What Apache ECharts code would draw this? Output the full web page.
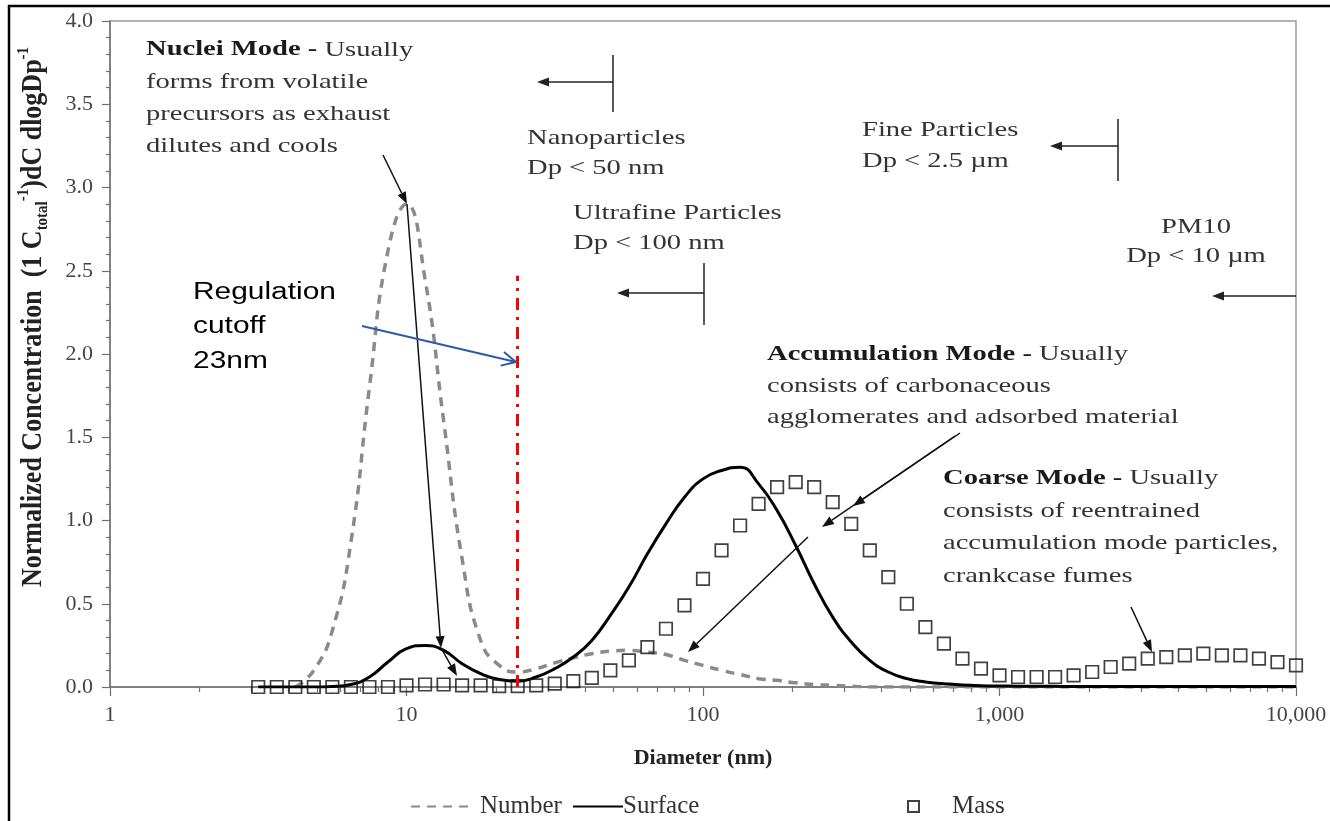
<!DOCTYPE html>
<html>
<head>
<meta charset="utf-8">
<script src="https://cdn.jsdelivr.net/npm/echarts@6/dist/echarts.min.js"></script>
<style>
html, body { margin: 0; padding: 0; background: #fff; }
#chart { width: 1330px; height: 821px; }
</style>
</head>
<body>
<div id="chart"></div>
<script>
// particle diameter (nm), 16 points per decade
var diameters = [3.162, 3.652, 4.217, 4.870, 5.623, 6.494, 7.499, 8.660, 10,
  11.55, 13.34, 15.40, 17.78, 20.54, 23.71, 27.38, 31.62, 36.52, 42.17, 48.70,
  56.23, 64.94, 74.99, 86.60, 100, 115.5, 133.4, 154.0, 177.8, 205.4, 237.1,
  273.8, 316.2, 365.2, 421.7, 487.0, 562.3, 649.4, 749.9, 866.0, 1000, 1155,
  1334, 1540, 1778, 2054, 2371, 2738, 3162, 3652, 4217, 4870, 5623, 6494,
  7499, 8660, 10000];

var numberConc = [null, null, 0, 0.1, 0.34, 0.87, 1.8, 2.62, 2.9, 2.45, 1.6, 0.77,
  0.28, 0.13, 0.09, 0.11, 0.145, 0.175, 0.2, 0.215, 0.22, 0.21,
  0.195, 0.16, 0.13, 0.1, 0.075, 0.05, 0.04, 0.025, 0.015, 0.01, 0.005,
  0, 0, 0, 0, 0, 0, 0, 0, 0, 0, 0, 0, 0, 0, 0, 0, 0, 0, 0, 0, 0, 0, 0, 0];

var surfaceConc = [0, 0, 0, 0, 0.003, 0.015, 0.06, 0.15, 0.23, 0.25, 0.22, 0.14,
  0.08, 0.045, 0.035, 0.06, 0.11, 0.18, 0.28, 0.43, 0.6, 0.8, 0.98, 1.14,
  1.25, 1.30, 1.32, 1.22, 1.06, 0.85, 0.62, 0.42, 0.27, 0.16, 0.09, 0.05,
  0.03, 0.02, 0.012, 0.008, 0.006, 0.005, 0.004, 0.004, 0.003, 0.003, 0.003,
  0.003, 0.003, 0.003, 0.003, 0.003, 0.003, 0.003, 0.003, 0.003, 0.003];

var massConc = [0, 0, 0, 0, 0, 0, 0, 0, 0.01, 0.015, 0.015, 0.01, 0.01, 0.005,
  0.005, 0.01, 0.02, 0.035, 0.055, 0.1, 0.16, 0.24, 0.35, 0.49, 0.65, 0.82,
  0.97, 1.1, 1.2, 1.23, 1.2, 1.11, 0.98, 0.82, 0.66, 0.5, 0.36, 0.26, 0.17,
  0.11, 0.07, 0.06, 0.06, 0.06, 0.07, 0.09, 0.12, 0.14, 0.17, 0.18, 0.19,
  0.2, 0.19, 0.19, 0.17, 0.15, 0.13];

var xTickLabels = { 1: '1', 10: '10', 100: '100', 1000: '1,000', 10000: '10,000' };
var xMinorTicks = [2, 3, 4, 5, 6, 7, 8, 9, 20, 30, 40, 50, 60, 70, 80, 90,
  200, 300, 400, 500, 600, 700, 800, 900, 2000, 3000, 4000, 5000, 6000, 7000, 8000, 9000];
var cutoffDiameter = 23.7;
var cutoffTop = 2.47;

function pairs(xs, ys) {
  var out = [];
  for (var i = 0; i < xs.length; i++) {
    if (ys[i] != null) out.push([xs[i], ys[i]]);
  }
  return out;
}

var SERIF = '"Liberation Serif", "Times New Roman", serif';
var SANS = '"Liberation Sans", Arial, sans-serif';
var AXIS = '#707070';

var els = [];

function arrow(x1, y1, x2, y2, color, w, open) {
  var dx = x2 - x1, dy = y2 - y1, len = Math.sqrt(dx * dx + dy * dy);
  var ux = dx / len, uy = dy / len, px = -uy, py = ux;
  var hl = open ? 14 : 12, hw = open ? 7 : 4.5;
  var bx = x2 - ux * hl, by = y2 - uy * hl;
  els.push({ type: 'line', silent: true, z: 100,
    shape: { x1: x1, y1: y1, x2: open ? x2 : bx, y2: open ? y2 : by },
    style: { stroke: color, lineWidth: w } });
  if (open) {
    els.push({ type: 'polyline', silent: true, z: 100,
      shape: { points: [[bx + px * hw, by + py * hw], [x2, y2], [bx - px * hw, by - py * hw]] },
      style: { stroke: color, lineWidth: w, fill: null } });
  } else {
    els.push({ type: 'polygon', silent: true, z: 100,
      shape: { points: [[x2, y2], [bx + px * hw, by + py * hw], [bx - px * hw, by - py * hw]] },
      style: { fill: color } });
  }
}

function vline(x, y1, y2) {
  els.push({ type: 'line', silent: true, z: 100,
    shape: { x1: x, y1: y1, x2: x, y2: y2 }, style: { stroke: '#222', lineWidth: 1.5 } });
}

function note(x, y, text, lh, align) {
  els.push({ type: 'text', silent: true, z: 100, x: x, y: y, scaleX: 1.36,
    style: {
      text: text, fontFamily: SERIF, fontSize: 21, fill: '#333',
      lineHeight: lh, align: align || 'left', verticalAlign: 'top',
      rich: { b: { fontFamily: SERIF, fontSize: 21, fontWeight: 'bold', fill: '#1a1a1a', lineHeight: lh } }
    } });
}

// outer frame
els.push({ type: 'polyline', silent: true, shape: { points: [[9, 821], [9, 6], [1330, 6]] },
  style: { stroke: '#000', lineWidth: 2.5, fill: null } });

// y axis title
els.push({ type: 'text', silent: true, x: 33, y: 317, rotation: Math.PI / 2, scaleY: 1.12,
  style: {
    text: '{n|Normalized Concentration  (1 C}{s|total}{p|-1}{n|)dC dlogDp}{p|-1}',
    align: 'center', verticalAlign: 'middle',
    rich: {
      n: { fontFamily: SERIF, fontSize: 26, fontWeight: 'bold', fill: '#222', lineHeight: 32 },
      s: { fontFamily: SERIF, fontSize: 15, fontWeight: 'bold', fill: '#222', lineHeight: 32, verticalAlign: 'bottom' },
      p: { fontFamily: SERIF, fontSize: 15, fontWeight: 'bold', fill: '#222', lineHeight: 32, verticalAlign: 'top' }
    }
  } });

note(146, 34, '{b|Nuclei Mode -} Usually\nforms from volatile\nprecursors as exhaust\ndilutes and cools', 32);
note(527, 123, 'Nanoparticles\nDp < 50 nm', 30);
note(573, 198, 'Ultrafine Particles\nDp < 100 nm', 30);
note(862, 115, 'Fine Particles\nDp < 2.5 \u00b5m', 31);
note(1196, 213, 'PM10\nDp < 10 \u00b5m', 29, 'center');
note(767, 339, '{b|Accumulation Mode -} Usually\nconsists of carbonaceous\nagglomerates and adsorbed material', 31.5);
note(943, 462, '{b|Coarse Mode -} Usually\nconsists of reentrained\naccumulation mode particles,\ncrankcase fumes', 32.7);

els.push({ type: 'text', silent: true, z: 100, x: 193, y: 275, scaleX: 1.3,
  style: { text: 'Regulation\ncutoff\n23nm', fontFamily: SANS, fontSize: 23, fill: '#000',
    lineHeight: 34.5, align: 'left', verticalAlign: 'top' } });

// size class markers
vline(613, 55, 112); arrow(613, 82, 537, 82, '#222', 1.5);
vline(704, 263, 325); arrow(704, 293, 617, 293, '#222', 1.5);
vline(1118, 119, 181); arrow(1118, 146, 1050, 146, '#222', 1.5);
arrow(1296, 296, 1212, 296, '#222', 1.5);

// mode pointers
arrow(383, 155, 407, 204, '#111', 1.5);
arrow(407, 204, 441, 648, '#111', 1.5);
arrow(441, 648, 457, 676, '#111', 1.5);
arrow(960, 433, 853, 506, '#111', 1.5);
arrow(955, 436, 822, 527, '#111', 1.5);
arrow(808, 537, 688, 652, '#111', 1.5);
arrow(1131, 607, 1152, 652, '#111', 1.5);
arrow(362, 326, 516, 362, '#2a5caa', 2, true);

var legendText = { fontFamily: SERIF, fontSize: 25, color: '#333' };

var chart = echarts.init(document.getElementById('chart'));
chart.setOption({
  animation: false,
  backgroundColor: '#fff',
  grid: { left: 110, right: 34, top: 21, bottom: 134, show: true, borderColor: '#9a9a9a', borderWidth: 1.5 },
  legend: [
    { data: ['Number'], left: 405, top: 789, itemWidth: 58, itemHeight: 14, selectedMode: false,
      itemStyle: { opacity: 0 },
      textStyle: Object.assign({ padding: [0, 0, 0, 6] }, legendText) },
    { data: ['Surface'], left: 567, top: 789, itemWidth: 50, itemHeight: 14, selectedMode: false,
      itemStyle: { opacity: 0 },
      textStyle: Object.assign({ padding: [0, 0, 0, -5] }, legendText) },
    { data: ['Mass'], left: 902, top: 789, itemWidth: 11, itemHeight: 11, selectedMode: false,
      textStyle: Object.assign({ padding: [0, 0, 0, 28] }, legendText) }
  ],
  xAxis: [
    {
      type: 'log', logBase: 10, min: 1, max: 10000,
      name: 'Diameter (nm)', nameLocation: 'middle', nameGap: 60,
      nameTextStyle: { fontFamily: SERIF, fontSize: 22, fontWeight: 'bold', color: '#222' },
      axisLine: { lineStyle: { color: AXIS, width: 1.5 } },
      axisTick: { length: 9, lineStyle: { color: AXIS, width: 1.2 } },
      axisLabel: { margin: 17, fontFamily: SERIF, fontSize: 22, color: '#444',
        formatter: function (v) { return xTickLabels[Math.round(v)] || ''; } },
      splitLine: { show: false }
    },
    {
      type: 'log', logBase: 10, min: 1, max: 10000, position: 'bottom',
      axisLine: { show: false },
      axisTick: { show: true, length: 5, customValues: xMinorTicks, lineStyle: { color: AXIS, width: 1.2 } },
      axisLabel: { show: false },
      splitLine: { show: false }
    }
  ],
  yAxis: {
    type: 'value', min: 0, max: 4, interval: 0.5,
    axisLine: { show: true, lineStyle: { color: AXIS, width: 1.5 } },
    axisTick: { show: true, length: 8, lineStyle: { color: AXIS, width: 1.2 } },
    minorTick: { show: true, splitNumber: 5, length: 4, lineStyle: { color: AXIS, width: 1.2 } },
    axisLabel: { margin: 17, fontFamily: SERIF, fontSize: 22, color: '#444',
      formatter: function (v) { return v.toFixed(1); } },
    splitLine: { show: false }
  },
  graphic: els,
  series: [
    {
      name: 'Number', type: 'line', xAxisIndex: 0, data: pairs(diameters, numberConc),
      symbol: 'none', smooth: 0.5, z: 2,
      itemStyle: { color: '#8a8a8a' },
      lineStyle: { color: '#8a8a8a', width: 3.5, type: [9, 7] }
    },
    {
      name: 'Surface', type: 'line', xAxisIndex: 0, data: pairs(diameters, surfaceConc),
      symbol: 'none', smooth: 0.5, z: 3,
      itemStyle: { color: '#000' },
      lineStyle: { color: '#000', width: 3 },
      markLine: {
        silent: true, symbol: ['none', 'none'], label: { show: false },
        lineStyle: { color: '#ff0000', width: 3, type: [12, 7, 3, 7] },
        data: [[{ coord: [cutoffDiameter, 0] }, { coord: [cutoffDiameter, cutoffTop] }]]
      }
    },
    {
      name: 'Mass', type: 'scatter', xAxisIndex: 0, data: pairs(diameters, massConc),
      symbol: 'rect', symbolSize: 12.5, z: 4,
      itemStyle: { color: 'rgba(255,255,255,0)', borderColor: '#111', borderWidth: 1.7 }
    }
  ]
});
</script>
</body>
</html>
